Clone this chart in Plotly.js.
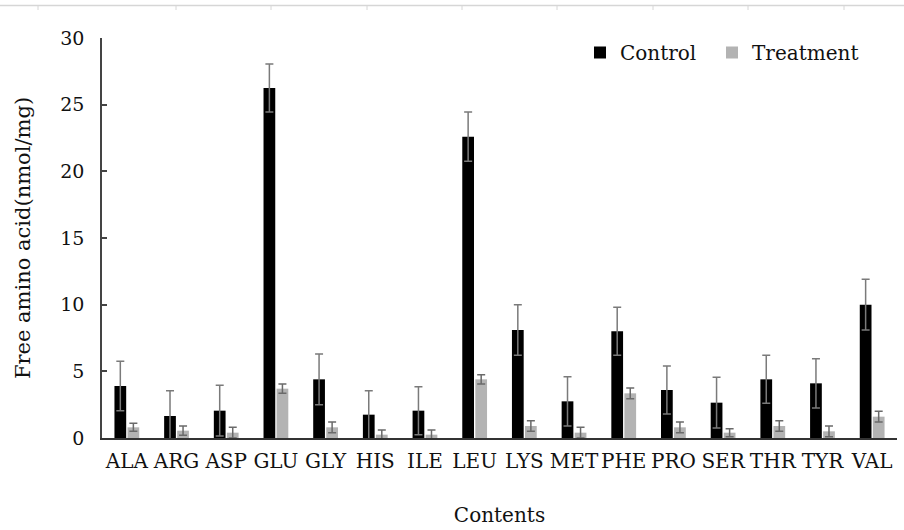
<!DOCTYPE html>
<html>
<head>
<meta charset="utf-8">
<script src="https://cdn.plot.ly/plotly-3.0.1.min.js"></script>
<style>html,body{margin:0;padding:0;background:#fff;}#chart{width:904px;height:530px;}</style>
</head>
<body>
<div id="chart"></div>
<script>
const categories = ["ALA","ARG","ASP","GLU","GLY","HIS","ILE","LEU","LYS","MET","PHE","PRO","SER","THR","TYR","VAL"];
const controlValues = [3.9, 1.65, 2.05, 26.25, 4.4, 1.75, 2.05, 22.6, 8.1, 2.75, 8.0, 3.6, 2.65, 4.4, 4.1, 10.0];
const controlErrors = [1.85, 1.9, 1.9, 1.8, 1.9, 1.8, 1.8, 1.85, 1.9, 1.85, 1.8, 1.8, 1.9, 1.8, 1.85, 1.9];
const treatmentValues = [0.8, 0.55, 0.4, 3.7, 0.8, 0.25, 0.25, 4.4, 0.9, 0.4, 3.35, 0.8, 0.4, 0.9, 0.5, 1.6];
const treatmentErrors = [0.3, 0.35, 0.4, 0.35, 0.4, 0.35, 0.35, 0.35, 0.4, 0.4, 0.4, 0.4, 0.3, 0.4, 0.4, 0.4];
const rulerTicks = [38, 176, 271, 367, 462, 557, 653, 748, 844];

const FONT = "DejaVu Serif, Liberation Serif, serif";
const L = 102, R = 7, T = 38, B = 92, W = 904, H = 530;
const pw = W - L - R, ph = H - T - B;
const px2x = p => (p - L) / pw;
const py2y = p => (H - B - p) / ph;

const traces = [
  {
    type: "bar", name: "Control", x: categories, y: controlValues,
    marker: {color: "#000000"},
    error_y: {type: "data", array: controlErrors, visible: true, color: "#7a7a7a", thickness: 1.5, width: 4},
    legend: "legend"
  },
  {
    type: "bar", name: "Treatment", x: categories, y: treatmentValues,
    marker: {color: "#b3b3b3"},
    error_y: {type: "data", array: treatmentErrors, visible: true, color: "#6a6a6a", thickness: 1.5, width: 4},
    legend: "legend2"
  }
];

const shapes = [{
  type: "line", xref: "paper", yref: "paper",
  x0: px2x(0), x1: px2x(904), y0: py2y(5.5), y1: py2y(5.5),
  line: {color: "#d6d6d6", width: 1.5}
}];
rulerTicks.forEach(t => shapes.push({
  type: "line", xref: "paper", yref: "paper",
  x0: px2x(t), x1: px2x(t), y0: py2y(5.5), y1: py2y(10),
  line: {color: "#d6d6d6", width: 1}
}));

const layout = {
  width: W, height: H,
  margin: {l: L, r: R, t: T, b: B, pad: 0},
  paper_bgcolor: "#ffffff", plot_bgcolor: "#ffffff",
  font: {family: FONT, color: "#111111", size: 20},
  barmode: "group", bargap: 0.475, bargroupgap: 0.1,
  showlegend: true,
  legend: {x: px2x(580), y: py2y(33), xanchor: "left", yanchor: "top", bgcolor: "rgba(0,0,0,0)",
           font: {family: FONT, size: 20, color: "#111"}, borderwidth: 0},
  legend2: {x: px2x(712), y: py2y(33), xanchor: "left", yanchor: "top", bgcolor: "rgba(0,0,0,0)",
           font: {family: FONT, size: 20, color: "#111"}, borderwidth: 0},
  xaxis: {
    type: "category", showgrid: false, zeroline: false,
    showline: true, linecolor: "#333333", linewidth: 1.5,
    ticks: "", tickangle: 0, tickfont: {family: FONT, size: 20, color: "#111"},
    ticklabelstandoff: 4,
    automargin: false,
    title: {text: "Contents", font: {family: FONT, size: 20, color: "#111"}, standoff: 36}
  },
  yaxis: {
    range: [0, 30], dtick: 5, showgrid: false, zeroline: false,
    showline: true, linecolor: "#444444", linewidth: 1.5,
    ticks: "inside", ticklen: 5, tickwidth: 1.5, tickcolor: "#444444",
    ticklabelstandoff: 12,
    tickfont: {family: FONT, size: 19, color: "#111"},
    automargin: false,
    title: {text: "Free amino acid(nmol/mg)", font: {family: FONT, size: 21, color: "#111"}, standoff: 24}
  },
  shapes: shapes
};

Plotly.newPlot("chart", traces, layout, {displayModeBar: false, responsive: false});
</script>
</body>
</html>
